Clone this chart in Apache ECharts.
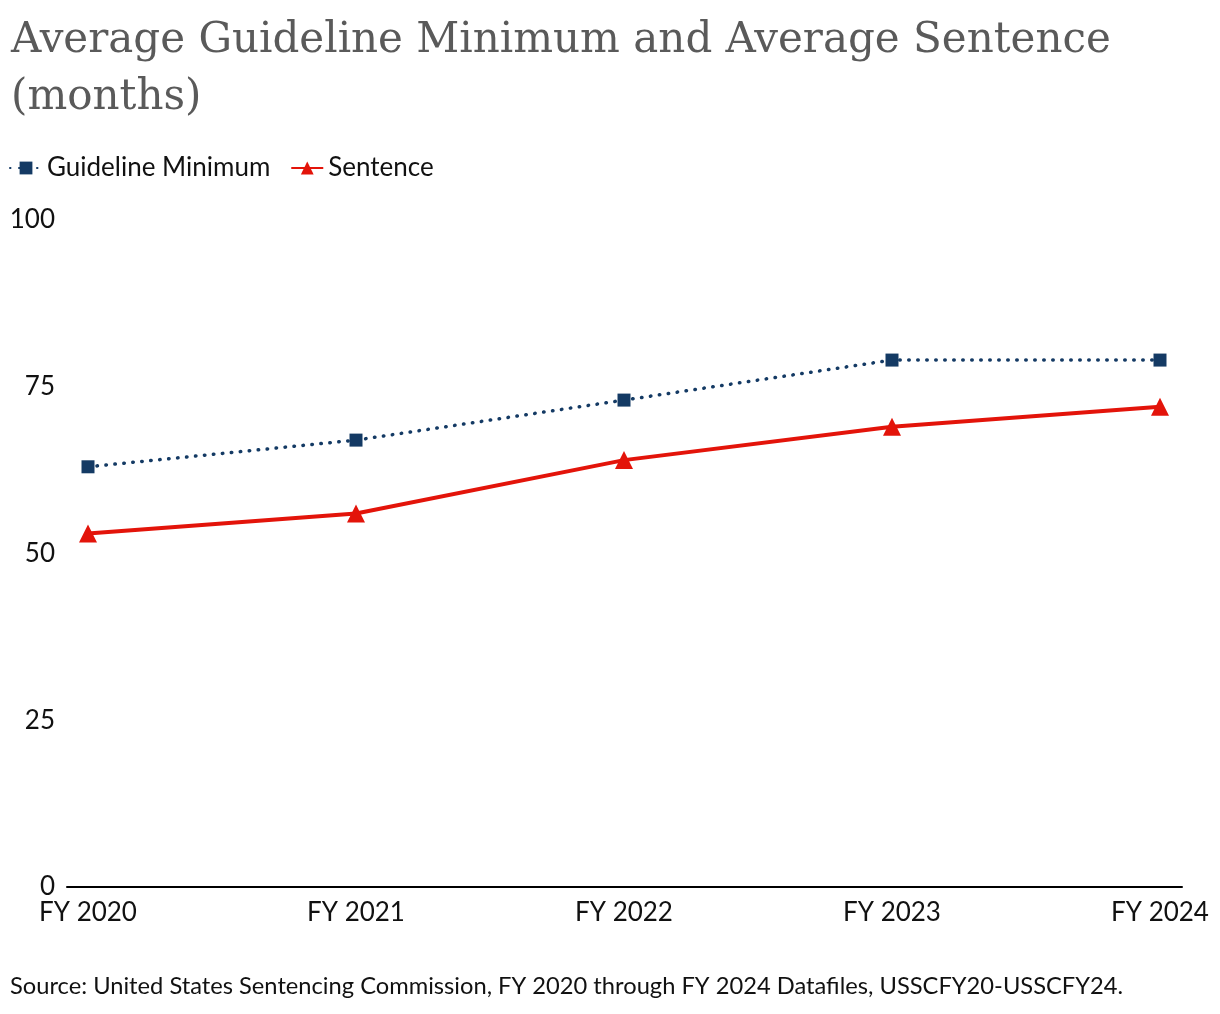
<!DOCTYPE html>
<html>
<head>
    <meta charset="UTF-8">
    <title>Average Guideline Minimum and Average Sentence</title>
    <script src="https://cdn.jsdelivr.net/npm/echarts@6/dist/echarts.min.js"></script>
    <style>
        html, body { margin: 0; padding: 0; background: #fff; }
        #chart { width: 1220px; height: 1014px; }
    </style>
</head>
<body>
    <div id="chart"></div>
    <script>
        // data
        const years = ['FY 2020', 'FY 2021', 'FY 2022', 'FY 2023', 'FY 2024'];
        const guidelineMin = [63, 67, 73, 79, 79];
        const sentence = [53, 56, 64, 69, 72];
        const yTicks = [0, 25, 50, 75, 100];

        const navy = '#143A64';
        const red = '#E3140A';
        const labelFont = 'Lato, "Noto Sans", sans-serif';

        let chart = echarts.init(document.getElementById('chart'));
        chart.setOption({
            animation: false,
            textStyle: { fontFamily: labelFont },
            title: {
                text: 'Average Guideline Minimum and Average Sentence\n(months)',
                left: 6, top: 8,
                textStyle: {
                    fontFamily: '"DejaVu Serif", serif',
                    fontSize: 42, fontWeight: 'normal',
                    color: '#5a5a5a', lineHeight: 57
                }
            },
            legend: {
                left: 4, top: 150,
                itemWidth: 32, itemHeight: 16, itemGap: 20,
                textStyle: { fontSize: 26, color: '#111', fontFamily: labelFont },
                data: ['Guideline Minimum', 'Sentence']
            },
            grid: [
                { left: 88, right: 60, top: 220, bottom: 127 },
                { left: 67, right: 38, top: 220, bottom: 127 }
            ],
            xAxis: [
                {
                    type: 'category', gridIndex: 0, data: years, boundaryGap: false,
                    axisLine: { show: false }, axisTick: { show: false },
                    axisLabel: { fontSize: 26, color: '#111', margin: 13, fontFamily: labelFont }
                },
                {
                    type: 'value', gridIndex: 1, min: 0, max: 1,
                    axisLine: { show: true, lineStyle: { color: '#000', width: 2 } },
                    axisTick: { show: false }, axisLabel: { show: false },
                    splitLine: { show: false }
                }
            ],
            yAxis: [
                {
                    type: 'value', gridIndex: 0, min: 0, max: 100, interval: 25,
                    axisLine: { show: false }, axisTick: { show: false },
                    splitLine: { show: false },
                    axisLabel: {
                        fontSize: 26, color: '#111', margin: 33, fontFamily: labelFont,
                        formatter: v => yTicks.includes(v) ? String(v) : ''
                    }
                },
                {
                    type: 'value', gridIndex: 1, min: 0, max: 1, show: false
                }
            ],
            series: [
                {
                    name: 'Guideline Minimum', type: 'line',
                    xAxisIndex: 0, yAxisIndex: 0,
                    data: guidelineMin,
                    symbol: 'rect', symbolSize: 13,
                    itemStyle: { color: navy },
                    lineStyle: { color: navy, width: 3.5, type: [0.5, 8.5], cap: 'round' }
                },
                {
                    name: 'Sentence', type: 'line',
                    xAxisIndex: 0, yAxisIndex: 0,
                    data: sentence,
                    symbol: 'triangle', symbolSize: 18,
                    itemStyle: { color: red },
                    lineStyle: { color: red, width: 4 }
                }
            ],
            graphic: [{
                type: 'text', left: 10, top: 974,
                style: {
                    text: 'Source: United States Sentencing Commission, FY 2020 through FY 2024 Datafiles, USSCFY20-USSCFY24.',
                    font: '23.7px ' + labelFont, fill: '#111'
                }
            }]
        });
    </script>
</body>
</html>
